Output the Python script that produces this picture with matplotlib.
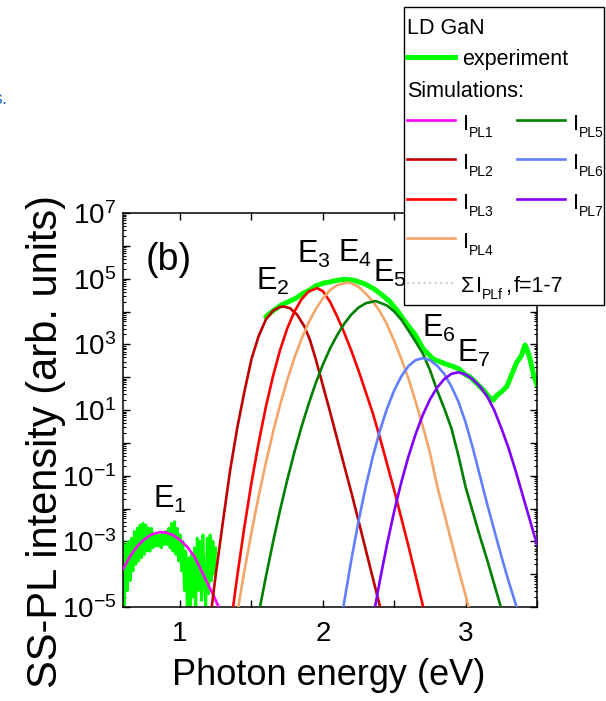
import numpy as np
import matplotlib
matplotlib.use("Agg")
import matplotlib.pyplot as plt
from matplotlib.lines import Line2D
from matplotlib.patches import Rectangle
from matplotlib.ticker import LogLocator, MultipleLocator, FuncFormatter, NullFormatter

plt.rcParams['font.family'] = ['Liberation Sans', 'DejaVu Sans']
plt.rcParams['mathtext.default'] = 'regular'

# ── Data (photon energy in eV, log10 of SS-PL intensity) ───────────────────────
# experiment, low-energy noisy part
exp_lo_E = np.round(np.arange(0.60, 1.2501, 0.01), 2)
exp_lo_logI = [
    -3.0, -5.0, -3.1, -4.5, -3.0, -4.2, -2.9, -3.9, -2.7, -3.7,
    -2.6, -3.6, -2.5, -3.5, -2.45, -3.4, -2.5, -3.3, -2.6, -3.3,
    -2.6, -3.2, -2.75, -3.15, -2.8, -3.15, -2.8, -3.2, -2.75, -3.1,
    -2.7, -3.1, -2.6, -3.2, -2.45, -3.3, -2.4, -3.4, -2.6, -3.6,
    -2.8, -3.9, -3.0, -4.5, -3.3, -5.0, -3.5, -5.0, -3.4, -4.7,
    -3.2, -5.0, -2.9, -4.5, -3.0, -4.8, -2.8, -4.3, -5.0, -2.9,
    -4.6, -2.8, -4.2, -3.0, -4.0, -3.2,
]
# experiment, main band
exp_hi_E = [1.60, 1.66, 1.71, 1.76, 1.81, 1.86, 1.91, 1.95, 2.00, 2.05, 2.10, 2.155,
            2.22, 2.295, 2.354, 2.41, 2.47, 2.53, 2.564, 2.60, 2.646, 2.681, 2.704,
            2.74, 2.774, 2.82, 2.86, 2.91, 2.95, 3.00, 3.031, 3.08, 3.124, 3.16,
            3.194, 3.22, 3.25, 3.288, 3.32, 3.358, 3.39, 3.416, 3.43, 3.451, 3.475, 3.50]
exp_hi_logI = [3.84, 4.05, 4.20, 4.30, 4.40, 4.55, 4.66, 4.78, 4.86, 4.90, 4.95, 4.98,
               4.95, 4.84, 4.70, 4.52, 4.30, 3.98, 3.76, 3.55, 3.30, 3.03, 2.85,
               2.70, 2.55, 2.47, 2.40, 2.33, 2.26, 2.07, 2.01, 1.80, 1.61, 1.42,
               1.30, 1.45, 1.55, 1.71, 2.05, 2.45, 2.65, 2.98, 2.85, 2.55, 2.10, 1.75]

pl1_E = [0.60, 0.65, 0.70, 0.75, 0.80, 0.85, 0.87, 0.90, 0.95, 1.00, 1.05, 1.10,
         1.15, 1.20, 1.25, 1.29]
pl1_logI = [-3.85, -3.45, -3.15, -2.94, -2.79, -2.73, -2.72, -2.73, -2.81, -2.96,
            -3.17, -3.46, -3.90, -4.35, -4.80, -5.20]

pl2_E = [1.21, 1.25, 1.30, 1.35, 1.40, 1.45, 1.50, 1.55, 1.60, 1.65, 1.70, 1.73,
         1.77, 1.82, 1.87, 1.91, 1.95, 2.00, 2.05, 2.10, 2.15, 2.20, 2.25, 2.30,
         2.35, 2.40, 2.43]
pl2_logI = [-5.4, -4.0, -2.4, -0.85, 0.45, 1.55, 2.55, 3.25, 3.75, 4.02, 4.14, 4.15,
            4.10, 3.90, 3.55, 3.13, 2.55, 1.75, 0.95, 0.12, -0.70, -1.52, -2.38, -3.25,
            -4.12, -4.98, -5.5]

pl3_E = [1.35, 1.37, 1.40, 1.45, 1.50, 1.55, 1.60, 1.65, 1.70, 1.75, 1.80, 1.85,
         1.90, 1.96, 2.00, 2.05, 2.10, 2.15, 2.20, 2.25, 2.30, 2.35, 2.40, 2.45,
         2.50, 2.55, 2.60, 2.65, 2.70, 2.73]
pl3_logI = [-5.71, -5.04, -4.07, -2.57, -1.21, 0.00, 1.08, 2.02, 2.82, 3.48, 3.99, 4.37,
            4.61, 4.71, 4.62, 4.30, 3.85, 3.35, 2.80, 2.20, 1.55, 0.90, 0.15, -0.65,
            -1.45, -2.30, -3.15, -4.05, -4.95, -5.5]

pl4_E = [1.38, 1.40, 1.45, 1.50, 1.55, 1.60, 1.65, 1.70, 1.75, 1.80, 1.85, 1.90,
         1.95, 2.00, 2.05, 2.10, 2.167, 2.20, 2.25, 2.30, 2.35, 2.40, 2.45, 2.50,
         2.55, 2.60, 2.65, 2.70, 2.75, 2.80, 2.85, 2.90, 2.95, 3.00, 3.03, 3.06]
pl4_logI = [-5.71, -5.18, -3.91, -2.73, -1.63, -0.62, 0.31, 1.15, 1.91, 2.58, 3.16, 3.66,
            4.07, 4.40, 4.65, 4.80, 4.88, 4.86, 4.75, 4.55, 4.30, 4.00, 3.60, 3.10,
            2.55, 1.95, 1.25, 0.50, -0.30, -1.30, -2.15, -3.00, -3.85, -4.65, -5.15, -5.6]

pl5_E = [1.54, 1.56, 1.60, 1.65, 1.70, 1.75, 1.80, 1.85, 1.90, 1.95, 2.00, 2.05,
         2.10, 2.15, 2.20, 2.25, 2.30, 2.37, 2.45, 2.50, 2.55, 2.60, 2.65, 2.70,
         2.75, 2.80, 2.85, 2.90, 2.95, 3.00, 3.05, 3.10, 3.15, 3.20, 3.25, 3.28]
pl5_logI = [-5.46, -4.99, -4.10, -3.04, -2.05, -1.14, -0.29, 0.48, 1.18, 1.82, 2.38, 2.87,
            3.28, 3.63, 3.91, 4.12, 4.25, 4.32, 4.18, 4.00, 3.75, 3.42, 3.08, 2.72,
            2.22, 1.60, 1.05, 0.45, -0.40, -1.35, -2.10, -2.85, -3.55, -4.30, -5.05, -5.5]

pl6_E = [2.12, 2.15, 2.20, 2.25, 2.30, 2.35, 2.40, 2.45, 2.50, 2.55, 2.60, 2.65,
         2.70, 2.75, 2.80, 2.85, 2.90, 2.95, 3.00, 3.05, 3.10, 3.15, 3.20, 3.25,
         3.30, 3.35, 3.40]
pl6_logI = [-5.66, -4.83, -3.55, -2.38, -1.34, -0.42, 0.38, 1.05, 1.60, 2.03, 2.34, 2.52,
            2.58, 2.52, 2.35, 2.10, 1.72, 1.25, 0.62, -0.15, -1.00, -1.85, -2.65, -3.45,
            -4.20, -4.90, -5.6]

pl7_E = [2.34, 2.37, 2.40, 2.45, 2.50, 2.55, 2.60, 2.65, 2.70, 2.75, 2.80, 2.85,
         2.90, 2.95, 3.00, 3.05, 3.10, 3.15, 3.20, 3.25, 3.30, 3.35, 3.40, 3.45, 3.50]
pl7_logI = [-5.64, -4.89, -4.18, -3.08, -2.08, -1.19, -0.41, 0.27, 0.85, 1.32, 1.68, 1.94,
            2.10, 2.15, 2.08, 1.93, 1.72, 1.42, 1.00, 0.45, -0.15, -0.85, -1.60, -2.35, -3.10]

sim_names = ["PL1", "PL2", "PL3", "PL4", "PL5", "PL6", "PL7"]
sim_colors = ["#ff00ff", "#c00000", "#ff0000", "#f4a66a", "#008000", "#6080ff", "#8000ff"]
sim_E = [pl1_E, pl2_E, pl3_E, pl4_E, pl5_E, pl6_E, pl7_E]
sim_logI = [pl1_logI, pl2_logI, pl3_logI, pl4_logI, pl5_logI, pl6_logI, pl7_logI]

# peak labels: (subscript, energy, log10 intensity of baseline)
peak_labels = [("1", 0.811, -1.99), ("2", 1.532, 4.655), ("3", 1.819, 5.477),
               ("4", 2.106, 5.507), ("5", 2.352, 4.898), ("6", 2.693, 3.232),
               ("7", 2.938, 2.471)]

EXP_GREEN = "#00ff00"
W, H = 606, 701


def fx(x):
    return x / W


def fy(y):
    return 1 - y / H


fig = plt.figure(figsize=(W / 100, H / 100), dpi=100)
ax = fig.add_axes([fx(123), fy(607), 414 / W, 394 / H])

ax.plot(exp_lo_E, 10.0 ** np.array(exp_lo_logI), color=EXP_GREEN, lw=2.0, zorder=2)
ax.plot(exp_hi_E, 10.0 ** np.array(exp_hi_logI), color=EXP_GREEN, lw=3.6, zorder=2,
        solid_capstyle='round', solid_joinstyle='round')
for e, li, c in zip(sim_E, sim_logI, sim_colors):
    ax.plot(e, 10.0 ** np.array(li), color=c, lw=1.9, zorder=3)

ax.set_yscale('log')
ax.set_xlim(0.6, 3.5)
ax.set_ylim(1e-5, 1e7)

ax.xaxis.set_major_locator(MultipleLocator(0.5))
ax.xaxis.set_major_formatter(FuncFormatter(
    lambda v, p: f"{int(round(v))}" if abs(v - round(v)) < 1e-6 else ""))
ax.yaxis.set_major_locator(LogLocator(base=10, subs=(1.0,), numticks=20))
ax.yaxis.set_minor_locator(LogLocator(base=10, subs=np.arange(2, 10), numticks=20))
ax.yaxis.set_minor_formatter(NullFormatter())


def ylab(v, p):
    ex = int(round(np.log10(v)))
    return r"$\mathregular{10^{%d}}$" % ex if ex % 2 else ""


ax.yaxis.set_major_formatter(FuncFormatter(ylab))
ax.tick_params(which='both', direction='in', top=True, right=True, labelsize=20)
ax.tick_params(which='major', length=5, width=1.0)
ax.tick_params(which='minor', length=2.5, width=0.8)
ax.tick_params(axis='x', pad=10)
ax.tick_params(axis='y', pad=5)
for s in ax.spines.values():
    s.set_linewidth(1.1)

ax.text(0.755, 10 ** 5.26, "(b)", fontsize=27, ha='left', va='baseline')
for sub, e, li in peak_labels:
    ax.text(e, 10 ** li, r"$\mathregular{E_{%s}}$" % sub, fontsize=22,
            ha='left', va='baseline', zorder=4)

fig.text(fx(329), fy(685), "Photon energy (eV)", fontsize=26, ha='center', va='baseline')
fig.text(fx(57), fy(442), "SS-PL intensity (arb. units)", fontsize=30,
         rotation=90, rotation_mode='anchor', ha='center', va='baseline')
fig.text(fx(8), fy(104), "s.", color="#2a6ebb", fontsize=14, ha='right', va='baseline')

# ── legend box drawn by hand, partly outside the axes ─────────────────────────
fig.add_artist(Rectangle((fx(404), fy(305)), 200 / W, 298 / H, transform=fig.transFigure,
                         facecolor='white', edgecolor='black', lw=1.0, zorder=10))
LFS = 15.5


def handle(x0, y, color, lw=2.0, ls='-'):
    fig.add_artist(Line2D([fx(x0), fx(x0 + 48)], [fy(y), fy(y)], transform=fig.transFigure,
                          color=color, lw=lw, ls=ls, zorder=11))


def ipl(x, y, sub):
    fig.text(fx(x), fy(y), "I", fontsize=16, va='baseline', zorder=12)
    fig.text(fx(x + 6), fy(y + 7), sub, fontsize=10, va='baseline', zorder=12)


fig.text(fx(407), fy(34), "LD GaN", fontsize=LFS, va='baseline', zorder=12)
handle(407, 57, EXP_GREEN, lw=3.6)
fig.text(fx(462), fy(65), "experiment", fontsize=LFS, va='baseline', zorder=12)
fig.text(fx(407), fy(97), "Simulations:", fontsize=LFS, va='baseline', zorder=12)

row_y = [120, 159, 199, 238]
for i, (name, c) in enumerate(zip(sim_names, sim_colors)):
    col, row = (0, i) if i < 4 else (1, i - 4)
    x0 = 407 if col == 0 else 517
    handle(x0, row_y[row], c, lw=1.9)
    ipl(x0 + 56, row_y[row] + 10, name)

handle(407, 283, "#d0d0d0", lw=1.5, ls=':')
fig.text(fx(461), fy(292), "Σ", fontsize=LFS, va='baseline', zorder=12)
ipl(476, 292, "PLf")
fig.text(fx(505), fy(292), ",", fontsize=LFS, va='baseline', zorder=12)
fig.text(fx(514), fy(292), "f=1-7", fontsize=LFS, va='baseline', zorder=12)

fig.savefig("out.png", dpi=100)
